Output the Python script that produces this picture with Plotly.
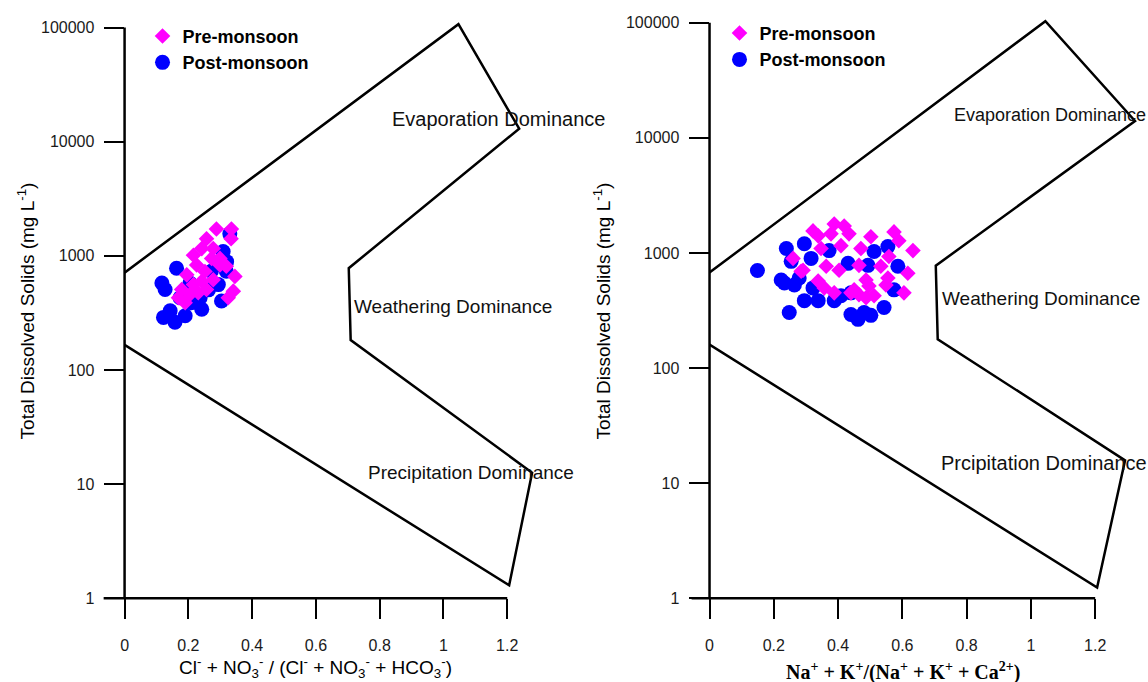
import plotly.graph_objects as go

W, H = 1148, 682

# ---------------- data ----------------
# Anion panel: Cl- + NO3- / (Cl- + NO3- + HCO3-) vs TDS (mg/L)
anion_ratio_pre = [0.288, 0.335, 0.334, 0.257, 0.242, 0.216, 0.278, 0.273, 0.299, 0.226,
                   0.195, 0.252, 0.242, 0.278, 0.216, 0.346, 0.179, 0.169, 0.205, 0.231,
                   0.257, 0.341, 0.325, 0.190, 0.319, 0.299]
anion_tds_pre = [1721, 1721, 1413, 1413, 1158, 1014, 1158, 950, 832, 832,
                 682, 730, 599, 618, 560, 661, 507, 430, 459, 475,
                 507, 491, 430, 389, 811, 950]
anion_ratio_post = [0.163, 0.117, 0.127, 0.143, 0.158, 0.190, 0.242, 0.304, 0.294, 0.320,
                    0.330, 0.174, 0.205, 0.309, 0.272, 0.237, 0.209, 0.122, 0.263, 0.319]
anion_tds_post = [779, 579, 507, 330, 262, 299, 341, 403, 560, 890,
                  1560, 430, 579, 1092, 734, 430, 389, 289, 504, 734]

# Cation panel: Na+ + K+ / (Na+ + K+ + Ca2+) vs TDS (mg/L)
cation_ratio_pre = [0.260, 0.322, 0.388, 0.419, 0.434, 0.502, 0.574, 0.589, 0.633, 0.471,
                    0.617, 0.605, 0.291, 0.338, 0.357, 0.388, 0.440, 0.465, 0.512, 0.487,
                    0.347, 0.409, 0.378, 0.465, 0.533, 0.555, 0.558, 0.338, 0.403, 0.450,
                    0.496, 0.549, 0.363, 0.285, 0.487]
cation_tds_pre = [896, 1553, 1782, 1714, 1465, 1380, 1523, 1276, 1048, 1091,
                  667, 450, 708, 570, 497, 450, 450, 433, 425, 582,
                  1091, 1157, 1465, 780, 766, 605, 931, 1407, 708, 478,
                  517, 527, 766, 694, 408]
cation_ratio_post = [0.149, 0.233, 0.264, 0.254, 0.295, 0.295, 0.338, 0.248, 0.322, 0.279,
                     0.388, 0.372, 0.555, 0.512, 0.493, 0.586, 0.431, 0.574, 0.440, 0.409,
                     0.543, 0.440, 0.462, 0.481, 0.502, 0.223, 0.316, 0.239]
cation_tds_post = [703, 548, 527, 845, 1203, 385, 385, 304, 497, 605,
                   385, 1048, 1135, 1028, 780, 766, 812, 478, 450, 425,
                   336, 292, 265, 304, 287, 582, 896, 1091]

# Gibbs boundary envelopes
gibbs_anion_x = [0.0, 1.047, 1.2375, 0.703, 0.709, 1.278, 1.206, 0.0]
gibbs_anion_tds = [713, 107000, 13000, 780, 183, 12.6, 1.3, 166]
gibbs_cation_x = [0.0, 1.045, 1.324, 0.704, 0.710, 1.293, 1.206, 0.0]
gibbs_cation_tds = [676, 103000, 14000, 775, 178, 15.8, 1.24, 160]

x_ticks = [0, 0.2, 0.4, 0.6, 0.8, 1.0, 1.2]
x_tick_text = ["0", "0.2", "0.4", "0.6", "0.8", "1", "1.2"]
y_ticks = [1, 10, 100, 1000, 10000, 100000]
y_tick_text = ["1", "10", "100", "1000", "10000", "100000"]

PRE_COLOR = "#FF00FF"
POST_COLOR = "#0000FF"
SANS = "Liberation Sans, Arial, sans-serif"
SERIF = "Liberation Serif, Times New Roman, serif"


def px_x(x):
    return x / W


def px_y(y):
    return 1 - y / H


# plot-area geometry (pixels)
L_X0, L_SCALE, L_XMAX = 121, 320.0, 1.32
L_YBOT, L_DEC, L_YMAX = 606, 116.2, 5.05
R_X0, R_SCALE, R_XMAX = 708, 322.5, 1.34
R_YBOT, R_DEC, R_YMAX = 606, 117.2, 5.08

fig = go.Figure()

# ---- left panel ----
fig.add_trace(go.Scatter(x=gibbs_anion_x, y=gibbs_anion_tds, mode="lines",
                         line=dict(color="black", width=2.5), showlegend=False,
                         hoverinfo="skip", xaxis="x", yaxis="y"))
fig.add_trace(go.Scatter(x=anion_ratio_post, y=anion_tds_post, mode="markers",
                         name="Post-monsoon", legend="legend", legendrank=2,
                         legendgroup="a_post",
                         marker=dict(symbol="circle", size=15, color=POST_COLOR),
                         xaxis="x", yaxis="y"))
fig.add_trace(go.Scatter(x=anion_ratio_pre, y=anion_tds_pre, mode="markers",
                         name="Pre-monsoon", legend="legend", legendrank=1,
                         legendgroup="a_pre",
                         marker=dict(symbol="diamond", size=12, color=PRE_COLOR),
                         xaxis="x", yaxis="y"))

# ---- right panel ----
fig.add_trace(go.Scatter(x=gibbs_cation_x, y=gibbs_cation_tds, mode="lines",
                         line=dict(color="black", width=2.5), showlegend=False,
                         hoverinfo="skip", xaxis="x2", yaxis="y2"))
fig.add_trace(go.Scatter(x=cation_ratio_post, y=cation_tds_post, mode="markers",
                         name="Post-monsoon", legend="legend2", legendrank=2,
                         legendgroup="c_post",
                         marker=dict(symbol="circle", size=15, color=POST_COLOR),
                         xaxis="x2", yaxis="y2"))
fig.add_trace(go.Scatter(x=cation_ratio_pre, y=cation_tds_pre, mode="markers",
                         name="Pre-monsoon", legend="legend2", legendrank=1,
                         legendgroup="c_pre",
                         marker=dict(symbol="diamond", size=12, color=PRE_COLOR),
                         xaxis="x2", yaxis="y2"))

tick_font = dict(family=SANS, size=16, color="#1a1a1a")
common_x = dict(showgrid=False, zeroline=False, showline=False, ticks="outside",
                ticklen=20, tickwidth=2, tickcolor="black", tickvals=x_ticks,
                ticktext=x_tick_text, tickfont=tick_font, ticklabelstandoff=12,
                fixedrange=True)
common_y = dict(type="log", showgrid=False, zeroline=False, showline=False,
                ticks="outside", ticklen=20, tickwidth=2, tickcolor="black",
                tickvals=y_ticks, ticktext=y_tick_text, tickfont=tick_font,
                ticklabelstandoff=6, fixedrange=True)

legend_font = dict(family=SANS, size=18, color="black", weight="bold")
fig.update_layout(
    width=W, height=H, margin=dict(l=0, r=0, t=0, b=0),
    paper_bgcolor="white", plot_bgcolor="white",
    xaxis=dict(common_x, range=[0, L_XMAX],
               domain=[px_x(L_X0), px_x(L_X0 + L_XMAX * L_SCALE)], anchor="y"),
    yaxis=dict(common_y, range=[0, L_YMAX],
               domain=[px_y(L_YBOT), px_y(L_YBOT - L_YMAX * L_DEC)], anchor="x"),
    xaxis2=dict(common_x, range=[0, R_XMAX],
                domain=[px_x(R_X0), px_x(R_X0 + R_XMAX * R_SCALE)], anchor="y2"),
    yaxis2=dict(common_y, range=[0, R_YMAX],
                domain=[px_y(R_YBOT), px_y(R_YBOT - R_YMAX * R_DEC)], anchor="x2"),
    legend=dict(x=px_x(139), y=px_y(15), xanchor="left", yanchor="top",
                bgcolor="rgba(0,0,0,0)", tracegroupgap=0, font=legend_font),
    legend2=dict(x=px_x(718), y=px_y(12), xanchor="left", yanchor="top",
                 bgcolor="rgba(0,0,0,0)", tracegroupgap=0, font=legend_font),
    showlegend=True,
)

# axis lines (x line stops at 1.2 and reaches a little left of the y axis)
axis_line = dict(color="black", width=2.5)
fig.add_shape(type="line", xref="x domain", yref="y domain",
              x0=0, x1=0, y0=0, y1=5 / L_YMAX, line=axis_line)
fig.add_shape(type="line", xref="x domain", yref="y domain",
              x0=-21 / (L_XMAX * L_SCALE), x1=1.2 / L_XMAX, y0=0, y1=0, line=axis_line)
fig.add_shape(type="line", xref="x2 domain", yref="y2 domain",
              x0=0, x1=0, y0=0, y1=5 / R_YMAX, line=axis_line)
fig.add_shape(type="line", xref="x2 domain", yref="y2 domain",
              x0=-18 / (R_XMAX * R_SCALE), x1=1.2 / R_XMAX, y0=0, y1=0, line=axis_line)

ytitle = "Total Dissolved Solids (mg L<sup>-1</sup>)"
anns = [
    dict(x=px_x(23), y=px_y(313), text=ytitle, textangle=-90,
         font=dict(family=SANS, size=19, color="black")),
    dict(x=px_x(601), y=px_y(313), text=ytitle, textangle=-90,
         font=dict(family=SANS, size=19, color="black")),
    dict(x=px_x(313), y=px_y(676),
         text="Cl<sup>-</sup> + NO<sub>3</sub><sup>-</sup> / (Cl<sup>-</sup> + "
              "NO<sub>3</sub><sup>-</sup> + HCO<sub>3</sub><sup>-</sup>)",
         font=dict(family=SANS, size=19, color="black")),
    dict(x=px_x(902), y=px_y(680),
         text="<b>Na<sup>+</sup> + K<sup>+</sup>/(Na<sup>+</sup> + K<sup>+</sup> + "
              "Ca<sup>2+</sup>)</b>",
         font=dict(family=SERIF, size=20, color="black")),
    # region labels, left panel
    dict(x=px_x(496), y=px_y(118), text="Evaporation Dominance",
         font=dict(family=SANS, size=20, color="#111")),
    dict(x=px_x(451), y=px_y(309), text="Weathering Dominance",
         font=dict(family=SANS, size=19, color="#111")),
    dict(x=px_x(469), y=px_y(478), text="Precipitation Dominance",
         font=dict(family=SANS, size=19, color="#111")),
    # region labels, right panel
    dict(x=px_x(1050), y=px_y(114), text="Evaporation Dominance",
         font=dict(family=SANS, size=18, color="#111")),
    dict(x=px_x(1041), y=px_y(301), text="Weathering Dominance",
         font=dict(family=SANS, size=19, color="#111")),
    dict(x=px_x(1044), y=px_y(468), text="Prcipitation Dominance",
         font=dict(family=SANS, size=20, color="#111")),
]
for a in anns:
    a.update(xref="paper", yref="paper", showarrow=False,
             xanchor="center", yanchor="middle")
fig.update_layout(annotations=anns)

fig.write_html("out.html")
